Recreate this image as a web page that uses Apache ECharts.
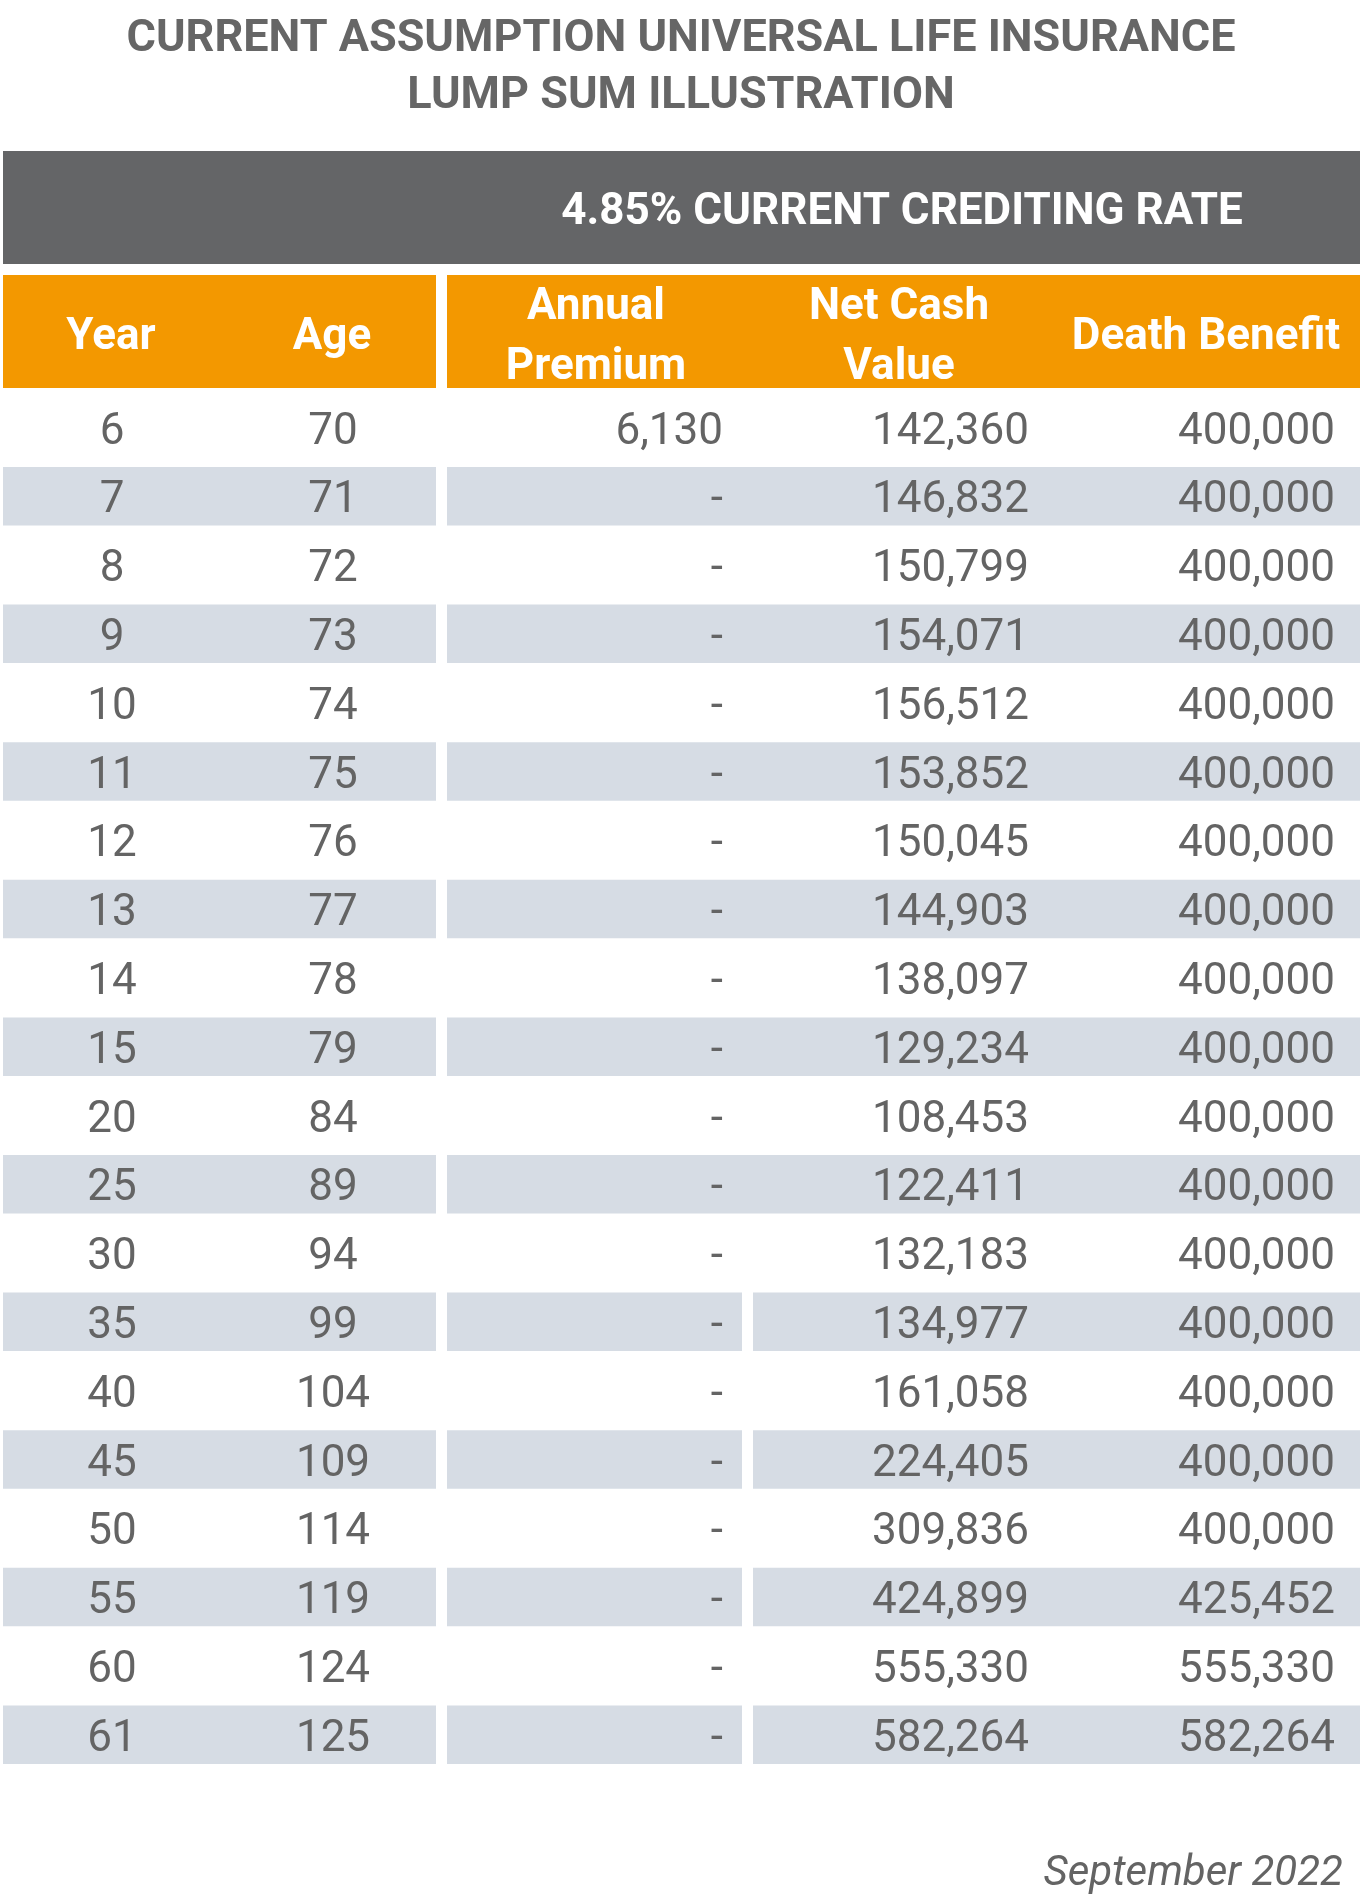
<!DOCTYPE html>
<html>
<head>
<meta charset="utf-8">
<title>Lump Sum Illustration</title>
<script src="https://cdn.jsdelivr.net/npm/echarts@6/dist/echarts.min.js"></script>
<style>
  html, body { margin: 0; padding: 0; background: #ffffff; }
  #main { width: 1362px; height: 1898px; }
</style>
</head>
<body>
<div id="main"></div>
<script>
// table data
var years = [6, 7, 8, 9, 10, 11, 12, 13, 14, 15, 20, 25, 30, 35, 40, 45, 50, 55, 60, 61];
var ages = [70, 71, 72, 73, 74, 75, 76, 77, 78, 79, 84, 89, 94, 99, 104, 109, 114, 119, 124, 125];
var premiums = [6130, 0, 0, 0, 0, 0, 0, 0, 0, 0, 0, 0, 0, 0, 0, 0, 0, 0, 0, 0];
var netCashValues = [142360, 146832, 150799, 154071, 156512, 153852, 150045, 144903, 138097, 129234,
    108453, 122411, 132183, 134977, 161058, 224405, 309836, 424899, 555330, 582264];
var deathBenefits = [400000, 400000, 400000, 400000, 400000, 400000, 400000, 400000, 400000, 400000,
    400000, 400000, 400000, 400000, 400000, 400000, 400000, 425452, 555330, 582264];
var headers = ['Year', 'Age', 'Annual\nPremium', 'Net Cash\nValue', 'Death Benefit'];

var FONT = 'Roboto, "Noto Sans", sans-serif';
var TEXT_GRAY = '#646464';
var BAND = '#d6dce4';
var ORANGE = '#f39800';
var DARK = '#646567';

function fmt(v) {
    if (!v) {
        return '-';
    }
    return v.toLocaleString('en-US');
}

var chart = echarts.init(document.getElementById('main'), null, { renderer: 'canvas' });

var rowData = years.map(function (y, i) {
    return [0, i];
});

// columns in pixel space of the x axis (0..1362)
var colYear = 112, colAge = 333, colPrem = 723, colNcv = 1029, colDb = 1335;

function renderRow(params, api) {
    var idx = api.value(1);
    var c = api.coord([0, idx]);
    var h = api.size([0, 1])[1];
    var top = c[1] - h / 2;
    var children = [];
    var bandTop = top + 5;
    var bandH = h - 10.3;
    var x = function (v) { return api.coord([v, idx])[0]; };

    if (idx % 2 === 1) {
        children.push({ type: 'rect', shape: { x: x(3), y: bandTop, width: x(436) - x(3), height: bandH }, style: { fill: BAND } });
        if (years[idx] >= 35) {
            children.push({ type: 'rect', shape: { x: x(447), y: bandTop, width: x(742) - x(447), height: bandH }, style: { fill: BAND } });
            children.push({ type: 'rect', shape: { x: x(753), y: bandTop, width: x(1360) - x(753), height: bandH }, style: { fill: BAND } });
        } else {
            children.push({ type: 'rect', shape: { x: x(447), y: bandTop, width: x(1360) - x(447), height: bandH }, style: { fill: BAND } });
        }
    }

    var cells = [
        [colYear, String(years[idx]), 'center'],
        [colAge, String(ages[idx]), 'center'],
        [colPrem, fmt(premiums[idx]), 'right'],
        [colNcv, fmt(netCashValues[idx]), 'right'],
        [colDb, fmt(deathBenefits[idx]), 'right']
    ];
    cells.forEach(function (cell) {
        children.push({
            type: 'text',
            x: x(cell[0]),
            y: c[1] + 5,
            style: {
                text: cell[1],
                fill: TEXT_GRAY,
                fontSize: 44,
                fontFamily: FONT,
                align: cell[2],
                verticalAlign: 'middle'
            }
        });
    });
    return { type: 'group', children: children };
}

var headerText = function (txt, cx) {
    return {
        type: 'text',
        x: cx,
        y: 338,
        style: {
            text: txt,
            fill: '#ffffff',
            fontSize: 44,
            fontWeight: 'bold',
            fontFamily: FONT,
            lineHeight: 60,
            align: 'center',
            verticalAlign: 'middle'
        }
    };
};

var option = {
    animation: false,
    backgroundColor: '#ffffff',
    title: [
        {
            text: 'CURRENT ASSUMPTION UNIVERSAL LIFE INSURANCE\nLUMP SUM ILLUSTRATION',
            left: 'center',
            top: 6,
            textStyle: {
                color: '#666666',
                fontSize: 45,
                fontWeight: 'bold',
                fontFamily: FONT,
                lineHeight: 57
            }
        },
        {
            text: 'September 2022',
            right: 14,
            top: 1848,
            textStyle: {
                color: TEXT_GRAY,
                fontSize: 42,
                fontStyle: 'italic',
                fontWeight: 'normal',
                fontFamily: FONT
            }
        }
    ],
    graphic: [
        { type: 'rect', shape: { x: 3, y: 151, width: 1357, height: 113 }, style: { fill: DARK } },
        {
            type: 'text', x: 902, y: 213,
            style: {
                text: '4.85% CURRENT CREDITING RATE', fill: '#ffffff', fontSize: 44,
                fontWeight: 'bold', fontFamily: FONT, align: 'center', verticalAlign: 'middle'
            }
        },
        { type: 'rect', shape: { x: 3, y: 275, width: 433, height: 113 }, style: { fill: ORANGE } },
        { type: 'rect', shape: { x: 447, y: 275, width: 913, height: 113 }, style: { fill: ORANGE } },
        headerText(headers[0], 111),
        headerText(headers[1], 332),
        headerText(headers[2], 596),
        headerText(headers[3], 899),
        headerText(headers[4], 1206)
    ],
    grid: {
        left: 0,
        top: 393.2,
        width: 1362,
        height: 1376
    },
    xAxis: {
        type: 'value',
        min: 0,
        max: 1362,
        show: false
    },
    yAxis: {
        type: 'category',
        data: years.map(String),
        inverse: true,
        show: false
    },
    series: [
        {
            type: 'custom',
            renderItem: renderRow,
            encode: { x: 0, y: 1 },
            silent: true,
            data: rowData
        }
    ]
};

chart.setOption(option);
</script>
</body>
</html>
